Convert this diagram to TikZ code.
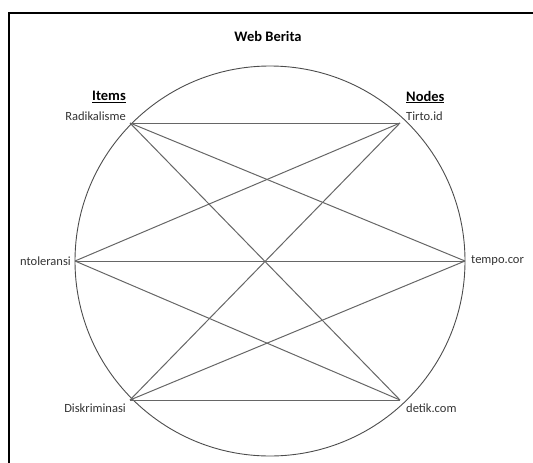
\documentclass[tikz,border=0pt]{standalone}
\usepackage{fontspec}
\setmainfont{Carlito}
\begin{document}
\begin{tikzpicture}[x=1pt,y=-1pt,
  lbl/.style={inner sep=0pt,font=\fontsize{12.5}{14}\selectfont,text=black!80},
  hdr/.style={inner sep=0pt,font=\bfseries\fontsize{14.5}{16}\selectfont},
  edge/.style={draw=black!60,line width=1pt},
  ]
\useasboundingbox (0,0) rectangle (533,463);
\draw[line width=1.3pt] (9,463) -- (9,13) -- (533,13);
\node[hdr] (title) at (268,36) {Web Berita};
\draw[black!70,line width=0.9pt] (270,261) circle (195);
% vertices
\coordinate (R) at (130,123);
\coordinate (T) at (400,123);
\coordinate (I) at (75,261);
\coordinate (P) at (465,261);
\coordinate (D) at (130,400);
\coordinate (K) at (400,400);
\foreach \a in {R,I,D}{
  \foreach \b in {T,P,K}{
    \draw[edge] (\a) -- (\b);
  }
}
% labels
\node[hdr,anchor=east] (items) at (126,97) {\underline{Items}};
\node[hdr,anchor=west] (nodes) at (406,97) {\underline{Nodes}};
\node[lbl,anchor=east] (lR) at (126,116) {Radikalisme};
\node[lbl,anchor=west] (lT) at (406,116) {Tirto.id};
\node[lbl,anchor=east] (lI) at (71,261) {ntoleransi};
\node[lbl,anchor=west] (lP) at (471,261) {tempo.cor};
\node[lbl,anchor=east] (lD) at (126,408) {Diskriminasi};
\node[lbl,anchor=west] (lK) at (406,408) {detik.com};
\end{tikzpicture}
\end{document}
